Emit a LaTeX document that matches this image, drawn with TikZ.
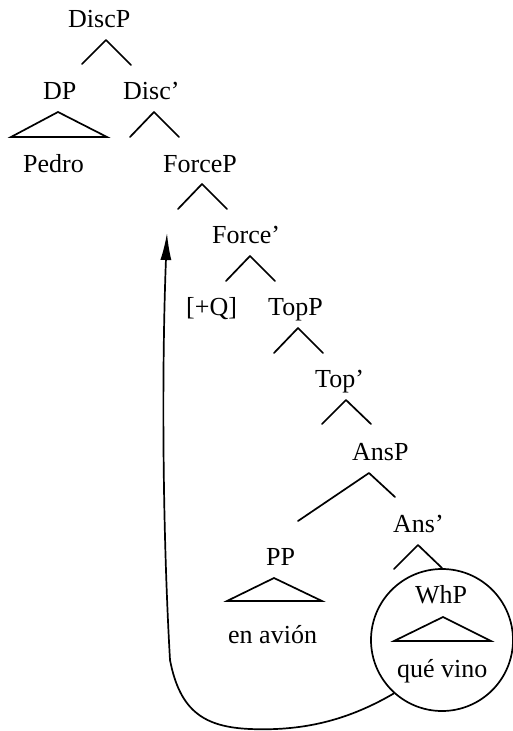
\documentclass[tikz,border=0pt]{standalone}
\usepackage{fontspec}
\setmainfont{Liberation Serif}
\usetikzlibrary{arrows.meta}
\begin{document}
\begin{tikzpicture}[x=1pt,y=-1pt,
  lbl/.style={inner sep=0pt,anchor=base west,font=\fontsize{26}{29}\selectfont},
  br/.style={line width=1.7pt,line cap=round,line join=round},
  tri/.style={line width=1.7pt,line join=miter}]
\useasboundingbox (0,0) rectangle (513,731);
% labels
\node[lbl] (discp) at (68,27) {DiscP};
\node[lbl] (dp) at (43,99) {DP};
\node[lbl] (disc) at (123,99) {Disc’};
\node[lbl] (pedro) at (23,172) {Pedro};
\node[lbl] (forcep) at (163,172) {ForceP};
\node[lbl] (force) at (212,243) {Force’};
\node[lbl] (q) at (186,315) {[+Q]};
\node[lbl] (topp) at (268,315) {TopP};
\node[lbl] (top) at (315,387) {Top’};
\node[lbl] (ansp) at (352,460) {AnsP};
\node[lbl] (ans) at (393,532) {Ans’};
\node[lbl] (pp) at (266,565) {PP};
\node[lbl] (avion) at (228,643) {en avión};
\node[lbl] (whp) at (415,603) {WhP};
\node[lbl] (que) at (397,677) {qué vino};
% branch points
\coordinate (a1) at (106,40); \coordinate (l1) at (82,64); \coordinate (r1) at (131,65);
\coordinate (a2) at (154,112); \coordinate (l2) at (130,137); \coordinate (r2) at (179,137);
\coordinate (a3) at (202,184); \coordinate (l3) at (178,209); \coordinate (r3) at (227,209);
\coordinate (a4) at (250,256); \coordinate (l4) at (226,281); \coordinate (r4) at (275,281);
\coordinate (a5) at (298,328); \coordinate (l5) at (274,353); \coordinate (r5) at (323,353);
\coordinate (a6) at (346,400); \coordinate (l6) at (322,424); \coordinate (r6) at (371,424);
\coordinate (a7) at (369,473); \coordinate (l7) at (298,521); \coordinate (r7) at (395,497);
\coordinate (a8) at (418,545); \coordinate (l8) at (394,569); \coordinate (r8) at (442,568);
\draw[br] (l1) -- (a1) -- (r1);
\draw[br] (l2) -- (a2) -- (r2);
\draw[br] (l3) -- (a3) -- (r3);
\draw[br] (l4) -- (a4) -- (r4);
\draw[br] (l5) -- (a5) -- (r5);
\draw[br] (l6) -- (a6) -- (r6);
\draw[br] (l7) -- (a7) -- (r7);
\draw[br] (l8) -- (a8) -- (r8);
% triangles
\draw[tri] (58,112) -- (11,137) -- (107,137) -- cycle;
\draw[tri] (274,578) -- (227,601) -- (322,601) -- cycle;
\draw[tri] (443,617) -- (394,641) -- (491,641) -- cycle;
% circle
\node[draw,circle,line width=1.7pt,minimum size=142pt,inner sep=0pt] (wh) at (442,640) {};
% movement arrow
\coordinate (tip) at (167,233);
\draw[line width=1.7pt,-{Latex[length=27pt,width=11pt]}] (wh.228)
  .. controls (345,722) and (300,731) .. (250,729)
  .. controls (205,727) and (180,712) .. (170,660)
  .. controls (162,520) and (162,360) .. (tip);
\end{tikzpicture}
\end{document}
